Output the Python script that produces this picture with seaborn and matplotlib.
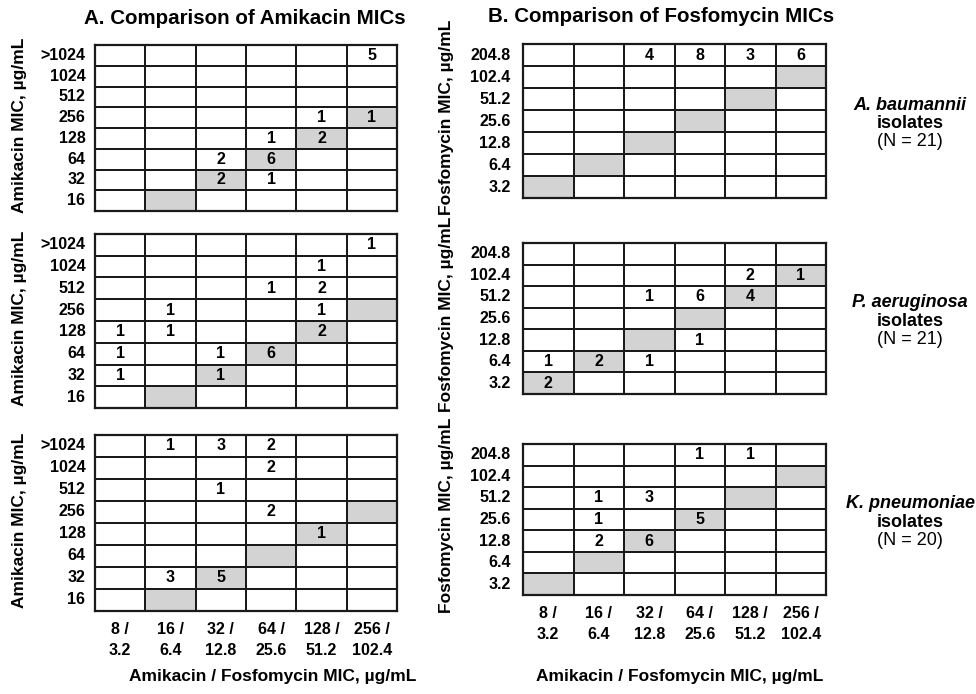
import numpy as np
import matplotlib
matplotlib.use("Agg")
import matplotlib.pyplot as plt
from matplotlib.colors import ListedColormap
import seaborn as sns

# ---------------- data ----------------
amk_rows = [">1024", "1024", "512", "256", "128", "64", "32", "16"]
fos_rows = ["204.8", "102.4", "51.2", "25.6", "12.8", "6.4", "3.2"]
combo_amk = ["8", "16", "32", "64", "128", "256"]
combo_fos = ["3.2", "6.4", "12.8", "25.6", "51.2", "102.4"]
organisms = ["A. baumannii", "P. aeruginosa", "K. pneumoniae"]
n_isolates = [21, 21, 20]

ab_amk = [[0, 0, 0, 0, 0, 5],
          [0, 0, 0, 0, 0, 0],
          [0, 0, 0, 0, 0, 0],
          [0, 0, 0, 0, 1, 1],
          [0, 0, 0, 1, 2, 0],
          [0, 0, 2, 6, 0, 0],
          [0, 0, 2, 1, 0, 0],
          [0, 0, 0, 0, 0, 0]]
pa_amk = [[0, 0, 0, 0, 0, 1],
          [0, 0, 0, 0, 1, 0],
          [0, 0, 0, 1, 2, 0],
          [0, 1, 0, 0, 1, 0],
          [1, 1, 0, 0, 2, 0],
          [1, 0, 1, 6, 0, 0],
          [1, 0, 1, 0, 0, 0],
          [0, 0, 0, 0, 0, 0]]
kp_amk = [[0, 1, 3, 2, 0, 0],
          [0, 0, 0, 2, 0, 0],
          [0, 0, 1, 0, 0, 0],
          [0, 0, 0, 2, 0, 0],
          [0, 0, 0, 0, 1, 0],
          [0, 0, 0, 0, 0, 0],
          [0, 3, 5, 0, 0, 0],
          [0, 0, 0, 0, 0, 0]]

ab_fos = [[0, 0, 4, 8, 3, 6],
          [0, 0, 0, 0, 0, 0],
          [0, 0, 0, 0, 0, 0],
          [0, 0, 0, 0, 0, 0],
          [0, 0, 0, 0, 0, 0],
          [0, 0, 0, 0, 0, 0],
          [0, 0, 0, 0, 0, 0]]
pa_fos = [[0, 0, 0, 0, 0, 0],
          [0, 0, 0, 0, 2, 1],
          [0, 0, 1, 6, 4, 0],
          [0, 0, 0, 0, 0, 0],
          [0, 0, 0, 1, 0, 0],
          [1, 2, 1, 0, 0, 0],
          [2, 0, 0, 0, 0, 0]]
kp_fos = [[0, 0, 0, 1, 1, 0],
          [0, 0, 0, 0, 0, 0],
          [0, 1, 3, 0, 0, 0],
          [0, 1, 0, 5, 0, 0],
          [0, 2, 6, 0, 0, 0],
          [0, 0, 0, 0, 0, 0],
          [0, 0, 0, 0, 0, 0]]

# ---------------- style ----------------
sns.set_theme(style="white")
plt.rcParams['font.family'] = ['Liberation Sans', 'DejaVu Sans']
plt.rcParams['text.color'] = 'black'
plt.rcParams['axes.labelcolor'] = 'black'
plt.rcParams['xtick.color'] = 'black'
plt.rcParams['ytick.color'] = 'black'

W, H = 976, 694
fig = plt.figure(figsize=(W / 100, H / 100), dpi=100)
fig.patch.set_facecolor("white")


def rect(x0, y0, x1, y1):
    return [x0 / W, 1 - y1 / H, (x1 - x0) / W, (y1 - y0) / H]


cmap = ListedColormap(["white", "#d3d3d3"])
LINE = "#1a1a1a"
FS_TICK = 11.5
FS_CELL = 11.5


def panel(box, counts, rows, shade_key, show_x, ypad):
    ax = fig.add_axes(rect(*box))
    counts = np.array(counts)
    shade = np.array([[1 if r == k else 0 for k in shade_key] for r in rows])
    annot = np.where(counts > 0, counts.astype(str), "")
    xt = [f"{a} /\n{f}" for a, f in zip(combo_amk, combo_fos)] if show_x else False
    sns.heatmap(shade, cmap=cmap, vmin=0, vmax=1, annot=annot, fmt="",
                cbar=False, linewidths=1.3, linecolor=LINE,
                xticklabels=xt, yticklabels=rows, ax=ax,
                annot_kws=dict(fontsize=FS_CELL, fontweight="bold", color="black"))
    for sp in ax.spines.values():
        sp.set_visible(True)
        sp.set_linewidth(1.6)
        sp.set_color(LINE)
    ax.tick_params(axis="both", length=0, colors="black")
    ax.tick_params(axis="y", pad=ypad)
    ax.tick_params(axis="x", pad=8)
    ax.set_yticklabels(rows, rotation=0, fontsize=FS_TICK, fontweight="bold",
                       color="black")
    if show_x:
        ax.set_xticklabels(xt, rotation=0, fontsize=FS_TICK, fontweight="bold",
                           linespacing=1.5, color="black")
    ax.set_xlabel("")
    ax.set_ylabel("")
    return ax


left_boxes = [(95, 45, 397, 211), (95, 234, 397, 408), (95, 435, 397, 611)]
right_boxes = [(523, 44, 826, 198), (523, 243, 826, 394), (523, 444, 826, 595)]
amk_data = [ab_amk, pa_amk, kp_amk]
fos_data = [ab_fos, pa_fos, kp_fos]

for i in range(3):
    panel(left_boxes[i], amk_data[i], amk_rows, combo_amk, i == 2, 7)
    panel(right_boxes[i], fos_data[i], fos_rows, combo_fos, i == 2, 9)
    yc = (left_boxes[i][1] + left_boxes[i][3]) / 2
    fig.text(20 / W, 1 - (yc - 3) / H, "Amikacin MIC, µg/mL", rotation=90,
             ha="center", va="center", fontsize=12.5, fontweight="bold")
    yc = (right_boxes[i][1] + right_boxes[i][3]) / 2
    fig.text(446 / W, 1 - (yc - 4) / H, "Fosfomycin MIC, µg/mL", rotation=90,
             ha="center", va="center", fontsize=12.5, fontweight="bold")
    # organism label
    ym = yc + 3
    fig.text(910 / W, 1 - (ym - 19) / H, organisms[i], ha="center", va="center",
             fontsize=13, fontweight="bold", style="italic")
    fig.text(910 / W, 1 - ym / H, "isolates", ha="center", va="center",
             fontsize=13, fontweight="bold")
    fig.text(910 / W, 1 - (ym + 18) / H, f"(N = {n_isolates[i]})", ha="center",
             va="center", fontsize=13, fontweight="normal")

fig.text(245 / W, 1 - 18 / H, "A. Comparison of Amikacin MICs", ha="center",
         va="center", fontsize=14.8, fontweight="bold")
fig.text(661 / W, 1 - 17 / H, "B. Comparison of Fosfomycin MICs", ha="center",
         va="center", fontsize=14.8, fontweight="bold")

fig.text(273 / W, 1 - 677 / H, "Amikacin / Fosfomycin MIC, µg/mL", ha="center",
         va="center", fontsize=12.5, fontweight="bold")
fig.text(680 / W, 1 - 677 / H, "Amikacin / Fosfomycin MIC, µg/mL", ha="center",
         va="center", fontsize=12.5, fontweight="bold")

fig.savefig("out.png", dpi=100, facecolor="white")
